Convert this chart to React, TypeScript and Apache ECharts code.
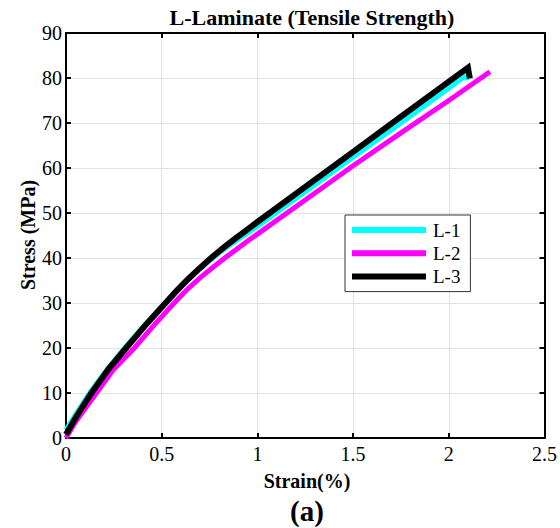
import React, { useEffect, useRef } from "react";
import * as echarts from "echarts";

const seriesNames = ["L-1", "L-2", "L-3"];
const seriesColors = ["#00FFFF", "#FF00FF", "#000000"];

// strain (%) , stress (MPa)
const strainL1 = [0, 0.05, 0.13, 0.22, 0.31, 0.42, 0.52, 0.58, 0.64, 0.7, 0.75, 0.82, 0.88, 0.94, 1.0, 1.25, 1.5, 1.75, 2.0, 2.09, 2.095];
const stressL1 = [1.8, 5.2, 10.4, 15.5, 20.2, 25.5, 30.1, 32.8, 35.3, 37.6, 39.4, 41.8, 43.6, 45.3, 47.0, 54.7, 62.4, 70.0, 77.7, 80.6, 79.5];

const strainL2 = [0, 0.05, 0.159, 0.25, 0.357, 0.46, 0.565, 0.63, 0.7, 0.77, 0.833, 0.9, 0.96, 1.0, 1.25, 1.5, 1.75, 2.0, 2.215];
const stressL2 = [0, 3.6, 10, 15.3, 20, 25.1, 30, 32.9, 35.6, 38.0, 40.1, 42.2, 44.1, 45.3, 52.9, 60.5, 67.8, 75.0, 81.4];

const strainL3 = [0, 0.05, 0.133, 0.22, 0.314, 0.42, 0.52, 0.58, 0.64, 0.7, 0.755, 0.82, 0.88, 0.94, 1.0, 1.25, 1.5, 1.75, 2.0, 2.1, 2.11];
const stressL3 = [0.8, 4.5, 10, 15.2, 20, 25.3, 30, 32.8, 35.4, 37.8, 39.9, 42.2, 44.2, 46.1, 48.0, 55.8, 63.6, 71.4, 79.2, 82.3, 79.9];

const xTicks = { min: 0, max: 2.5, interval: 0.5 };
const yTicks = { min: 0, max: 90, interval: 10 };

const titleText = "L-Laminate (Tensile Strength)";
const xName = "Strain(%)";
const yName = "Stress (MPa)";
const panelLabel = "(a)";

const FONT = "Liberation Serif";

function zip(xs: number[], ys: number[]) {
  return xs.map((x, i) => [x, ys[i]]);
}

export default function App() {
  const ref = useRef<HTMLDivElement>(null);
  useEffect(() => {
    if (!ref.current) return;
    const chart = echarts.init(ref.current, undefined, { renderer: "svg" });
    const data = [zip(strainL1, stressL1), zip(strainL2, stressL2), zip(strainL3, stressL3)];
    const widths = [5, 5, 6];
    const left = 66, right = 12, top = 33, bottom = 90;
    const axisLineStyle = { color: "#000", width: 2 };
    const tickStyle = { show: true, inside: true, length: 5, lineStyle: { color: "#000", width: 2 } };
    chart.setOption({
      animation: false,
      backgroundColor: "#fff",
      textStyle: { fontFamily: FONT },
      title: {
        text: titleText,
        left: 307,
        top: 1,
        textAlign: "center",
        textStyle: { fontFamily: FONT, fontWeight: "bold", fontSize: 22, color: "#000" },
      },
      grid: { left, right, top, bottom, containLabel: false },
      legend: {
        orient: "vertical",
        left: 345,
        top: 215,
        data: seriesNames,
        icon: "rect",
        itemWidth: 74,
        itemHeight: 6,
        itemGap: 3.3,
        padding: [5, 10, 5, 7],
        borderColor: "#333",
        borderWidth: 1,
        backgroundColor: "#fff",
        textStyle: { fontFamily: FONT, fontSize: 19, color: "#000", lineHeight: 20, padding: [0, 0, 0, 2] },
      },
      xAxis: [
        {
          type: "value",
          position: "bottom",
          min: xTicks.min,
          max: xTicks.max,
          interval: xTicks.interval,
          axisLine: { show: true, onZero: false, lineStyle: axisLineStyle },
          axisTick: tickStyle,
          axisLabel: { fontFamily: FONT, fontSize: 20, color: "#000", margin: 6 },
          splitLine: { show: true, lineStyle: { color: "#e3e3e3", width: 1 } },
        },
        {
          type: "value",
          position: "top",
          min: xTicks.min,
          max: xTicks.max,
          interval: xTicks.interval,
          axisLine: { show: true, onZero: false, lineStyle: axisLineStyle },
          axisTick: tickStyle,
          axisLabel: { show: false },
          splitLine: { show: false },
        },
      ],
      yAxis: [
        {
          type: "value",
          position: "left",
          min: yTicks.min,
          max: yTicks.max,
          interval: yTicks.interval,
          axisLine: { show: true, onZero: false, lineStyle: axisLineStyle },
          axisTick: tickStyle,
          axisLabel: { fontFamily: FONT, fontSize: 20, color: "#000", margin: 4 },
          splitLine: { show: true, lineStyle: { color: "#e3e3e3", width: 1 } },
        },
        {
          type: "value",
          position: "right",
          min: yTicks.min,
          max: yTicks.max,
          interval: yTicks.interval,
          axisLine: { show: true, onZero: false, lineStyle: axisLineStyle },
          axisTick: tickStyle,
          axisLabel: { show: false },
          splitLine: { show: false },
        },
      ],
      series: seriesNames.map((name, i) => ({
        name,
        type: "line",
        data: data[i],
        showSymbol: false,
        symbol: "none",
        smooth: false,
        color: seriesColors[i],
        lineStyle: { color: seriesColors[i], width: widths[i], join: "miter", cap: "butt" },
        xAxisIndex: 0,
        yAxisIndex: 0,
        z: 2 + i,
      })),
      graphic: [
        {
          type: "text",
          x: 307,
          y: 481,
          style: {
            text: xName,
            fontFamily: FONT,
            fontWeight: "bold",
            fontSize: 20,
            fill: "#000",
            align: "center",
            verticalAlign: "middle",
          },
        },
        {
          type: "text",
          x: 28,
          y: 235,
          rotation: Math.PI / 2,
          style: {
            text: yName,
            fontFamily: FONT,
            fontWeight: "bold",
            fontSize: 20,
            fill: "#000",
            align: "center",
            verticalAlign: "middle",
          },
        },
        {
          type: "text",
          x: 307,
          y: 511,
          style: {
            text: panelLabel,
            fontFamily: FONT,
            fontWeight: "bold",
            fontSize: 29,
            fill: "#000",
            align: "center",
            verticalAlign: "middle",
          },
        },
      ],
    });
    return () => chart.dispose();
  }, []);
  return (
    <div
      ref={ref}
      style={{ position: "fixed", left: 0, top: 0, width: 560, height: 528 }}
    />
  );
}
